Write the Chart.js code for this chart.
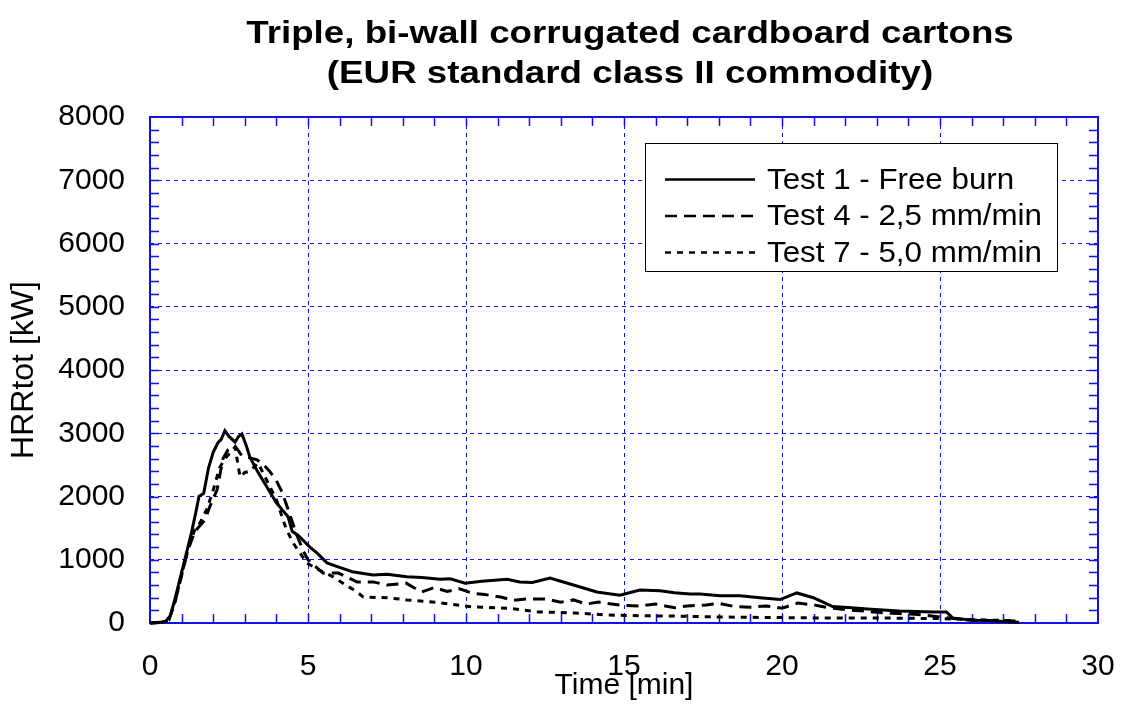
<!DOCTYPE html>
<html>
<head>
<meta charset="utf-8">
<script src="https://cdn.jsdelivr.net/npm/chart.js@4"></script>
<style>
  html, body { margin: 0; padding: 0; background: #ffffff; }
  #wrap { width: 1125px; height: 713px; }
</style>
</head>
<body>
<div id="wrap"><canvas id="chart-hrr"></canvas></div>
<script>
const titleLines = [
  "Triple, bi-wall corrugated cardboard cartons",
  "(EUR standard class II commodity)",
];
const seriesLabels = [
  "Test 1 - Free burn",
  "Test 4 - 2,5 mm/min",
  "Test 7 - 5,0 mm/min",
];
const xTicks = [0, 5, 10, 15, 20, 25, 30];
const yTicks = [0, 1000, 2000, 3000, 4000, 5000, 6000, 7000, 8000];

// Test 1 - free burn (solid)
const test1Time = [0, 0.3, 0.5, 0.65, 0.8, 1.0, 1.15, 1.3, 1.45, 1.55, 1.7, 1.85, 2.0, 2.15, 2.25, 2.37, 2.5, 2.69, 2.8, 2.91, 3.05, 3.16, 3.4, 3.7, 4.0, 4.2, 4.37, 4.5, 4.7, 5.06, 5.3, 5.6, 6.0, 6.4, 7.06, 7.5, 8.12, 8.6, 9.18, 9.5, 9.97, 10.5, 11.3, 11.7, 12.1, 12.66, 13.0, 13.4, 14.14, 14.87, 15.5, 16.14, 16.6, 17.09, 17.4, 18.04, 18.67, 19.3, 19.94, 20.47, 20.99, 21.3, 21.6, 22.2, 22.7, 23.7, 24.8, 25.2, 25.4, 26.0, 26.6, 27.0, 27.5];
const test1Hrr = [0, 10, 30, 120, 400, 800, 1100, 1400, 1750, 2000, 2050, 2450, 2700, 2850, 2900, 3040, 2950, 2860, 2950, 2990, 2800, 2620, 2400, 2150, 1900, 1780, 1680, 1450, 1380, 1200, 1100, 950, 880, 810, 760, 770, 730, 720, 690, 700, 630, 660, 690, 650, 640, 710, 660, 600, 490, 440, 520, 510, 480, 460, 458, 430, 430, 400, 370, 475, 400, 330, 260, 240, 220, 190, 175, 175, 80, 45, 40, 25, 10];

// Test 4 - 2,5 mm/min (dashed)
const test4Time = [0, 0.4, 0.6, 0.8, 1.0, 1.2, 1.42, 1.6, 1.74, 1.9, 2.12, 2.31, 2.47, 2.6, 2.72, 2.9, 3.1, 3.39, 3.6, 3.8, 4.0, 4.18, 4.43, 4.6, 4.84, 5.0, 5.47, 5.96, 6.55, 7.06, 7.5, 8.1, 8.6, 9.0, 9.4, 9.8, 10.2, 10.6, 11.1, 11.5, 11.9, 12.5, 13.0, 13.4, 13.8, 14.2, 14.9, 15.5, 16.0, 16.6, 17.0, 17.6, 18.0, 18.5, 19.0, 19.5, 20.0, 20.5, 21.0, 21.5, 22.1, 22.6, 23.2, 24.2, 24.6, 25.0, 25.8, 26.5, 27.4];
const test4Hrr = [0, 10, 50, 350, 750, 1150, 1450, 1550, 1630, 1850, 2100, 2600, 2740, 2800, 2780, 2650, 2620, 2580, 2500, 2390, 2250, 2070, 1710, 1450, 1150, 1000, 790, 790, 650, 650, 600, 630, 490, 560, 500, 540, 470, 450, 410, 360, 380, 380, 330, 365, 300, 330, 280, 270, 300, 240, 270, 285, 310, 260, 250, 270, 235, 315, 285, 240, 205, 190, 160, 140, 120, 95, 50, 40, 30];

// Test 7 - 5,0 mm/min (dotted)
const test7Time = [0, 0.4, 0.6, 0.8, 1.0, 1.2, 1.4, 1.6, 1.8, 2.0, 2.2, 2.37, 2.55, 2.69, 2.85, 3.0, 3.16, 3.42, 3.7, 4.0, 4.3, 4.53, 4.96, 5.3, 5.8, 6.2, 6.55, 6.75, 7.5, 8.12, 9.18, 10.2, 11.3, 12.3, 13.4, 14.5, 15.5, 16.6, 18.04, 19, 20, 21, 22, 23, 24, 25, 26, 27, 27.4];
const test7Hrr = [0, 10, 50, 350, 760, 1160, 1450, 1600, 1800, 2100, 2450, 2600, 2700, 2780, 2310, 2380, 2400, 2530, 2250, 1950, 1500, 1265, 950, 850, 730, 600, 490, 410, 400, 365, 320, 255, 235, 175, 160, 125, 115, 110, 95, 90, 85, 80, 80, 80, 75, 70, 55, 40, 30];

const seriesDash = [[], [12, 7], [6, 6]];
const fontFamily = "'Liberation Sans', Arial, sans-serif";
const axisBlue = "#1010ee";

function toPoints(times, values) {
  return times.map((t, i) => ({ x: t, y: values[i] }));
}

// frame, inward minor/major ticks on all four sides
const framePlugin = {
  id: "frame",
  beforeDatasetsDraw(chart) {
    const { ctx, chartArea: a } = chart;
    const xs = chart.scales.x;
    const ys = chart.scales.y;
    const len = 9;
    ctx.save();
    ctx.strokeStyle = axisBlue;
    ctx.lineWidth = 1.5;
    ctx.beginPath();
    for (let v = 1; v < 30; v++) {
      const px = Math.round(xs.getPixelForValue(v)) + 0.5;
      ctx.moveTo(px, a.bottom);
      ctx.lineTo(px, a.bottom - len);
      ctx.moveTo(px, a.top);
      ctx.lineTo(px, a.top + len);
    }
    for (let v = 200; v < 8000; v += 200) {
      const py = Math.round(ys.getPixelForValue(v)) + 0.5;
      ctx.moveTo(a.left, py);
      ctx.lineTo(a.left + len, py);
      ctx.moveTo(a.right, py);
      ctx.lineTo(a.right - len, py);
    }
    ctx.stroke();
    ctx.lineWidth = 2;
    ctx.strokeRect(a.left, a.top, a.right - a.left, a.bottom - a.top);
    ctx.restore();
  },
};

// two-line bold title, slightly wide like the original
const titlePlugin = {
  id: "wideTitle",
  afterDraw(chart) {
    const { ctx } = chart;
    ctx.save();
    ctx.font = "bold 31px " + fontFamily;
    ctx.fillStyle = "#000000";
    ctx.textAlign = "center";
    ctx.textBaseline = "middle";
    titleLines.forEach((line, i) => {
      ctx.save();
      ctx.translate(630, 34 + i * 40);
      ctx.scale(1.185, 1);
      ctx.fillText(line, 0, 0);
      ctx.restore();
    });
    ctx.restore();
  },
};

// boxed legend with line samples
const legendPlugin = {
  id: "boxLegend",
  afterDraw(chart) {
    const { ctx, chartArea: a } = chart;
    const boxLeft = a.left + 495;
    const boxTop = a.top + 26;
    const boxW = 412;
    const boxH = 128;
    ctx.save();
    ctx.fillStyle = "#ffffff";
    ctx.fillRect(boxLeft, boxTop, boxW, boxH);
    ctx.strokeStyle = "#000000";
    ctx.lineWidth = 1;
    ctx.strokeRect(boxLeft + 0.5, boxTop + 0.5, boxW, boxH);
    ctx.font = "29px " + fontFamily;
    ctx.textBaseline = "middle";
    ctx.fillStyle = "#000000";
    chart.data.datasets.forEach((ds, i) => {
      const y = boxTop + 36.5 + i * 36.5;
      ctx.setLineDash(ds.borderDash);
      ctx.lineWidth = 2.5;
      ctx.beginPath();
      ctx.moveTo(boxLeft + 20, y);
      ctx.lineTo(boxLeft + 110, y);
      ctx.stroke();
      ctx.setLineDash([]);
      ctx.save();
      ctx.translate(boxLeft + 122, y + 1);
      ctx.scale(1.08, 1);
      ctx.fillText(ds.label, 0, 0);
      ctx.restore();
    });
    ctx.restore();
  },
};

const ctxHrr = document.getElementById("chart-hrr").getContext("2d");

const chartHrr = new Chart(ctxHrr, {
  type: "line",
  data: {
    datasets: [
      {
        label: seriesLabels[0],
        data: toPoints(test1Time, test1Hrr),
        borderColor: "#000000",
        borderWidth: 3,
        borderDash: seriesDash[0],
        pointRadius: 0,
        tension: 0,
        clip: false,
      },
      {
        label: seriesLabels[1],
        data: toPoints(test4Time, test4Hrr),
        borderColor: "#000000",
        borderWidth: 3,
        borderDash: seriesDash[1],
        pointRadius: 0,
        tension: 0,
        clip: false,
      },
      {
        label: seriesLabels[2],
        data: toPoints(test7Time, test7Hrr),
        borderColor: "#000000",
        borderWidth: 3,
        borderDash: seriesDash[2],
        pointRadius: 0,
        tension: 0,
        clip: false,
      },
    ],
  },
  options: {
    responsive: true,
    maintainAspectRatio: false,
    animation: false,
    layout: {
      padding: { left: 0, right: 27, top: 117, bottom: 0 },
    },
    plugins: {
      legend: { display: false },
      tooltip: { enabled: false },
      title: { display: false },
    },
    scales: {
      x: {
        type: "linear",
        min: xTicks[0],
        max: xTicks[xTicks.length - 1],
        afterBuildTicks: (scale) => {
          scale.ticks = xTicks.map((v) => ({ value: v }));
        },
        afterFit: (scale) => {
          scale.height = 90;
          scale.paddingLeft = 0;
          scale.paddingRight = 0;
        },
        grid: {
          color: axisBlue,
          lineWidth: 1,
          drawTicks: false,
        },
        border: { display: false, dash: [4, 4] },
        ticks: {
          color: "#000000",
          padding: 26,
          maxRotation: 0,
          font: { family: fontFamily, size: 30 },
          callback: (v) => String(v),
        },
        title: {
          display: true,
          text: "Time [min]",
          color: "#000000",
          padding: { top: 0, bottom: 9 },
          font: { family: fontFamily, size: 30 },
        },
      },
      y: {
        type: "linear",
        min: yTicks[0],
        max: yTicks[yTicks.length - 1],
        afterBuildTicks: (scale) => {
          scale.ticks = yTicks.map((v) => ({ value: v }));
        },
        afterFit: (scale) => {
          scale.width = 150;
        },
        grid: {
          color: axisBlue,
          lineWidth: 1,
          drawTicks: false,
        },
        border: { display: false, dash: [4, 4] },
        ticks: {
          color: "#000000",
          padding: 25,
          font: { family: fontFamily, size: 30 },
          callback: (v) => String(v),
        },
        title: {
          display: true,
          text: "HRRtot [kW]",
          color: "#000000",
          padding: { top: 5, bottom: 0 },
          font: { family: fontFamily, size: 32 },
        },
      },
    },
  },
  plugins: [framePlugin, titlePlugin, legendPlugin],
});
</script>
</body>
</html>
